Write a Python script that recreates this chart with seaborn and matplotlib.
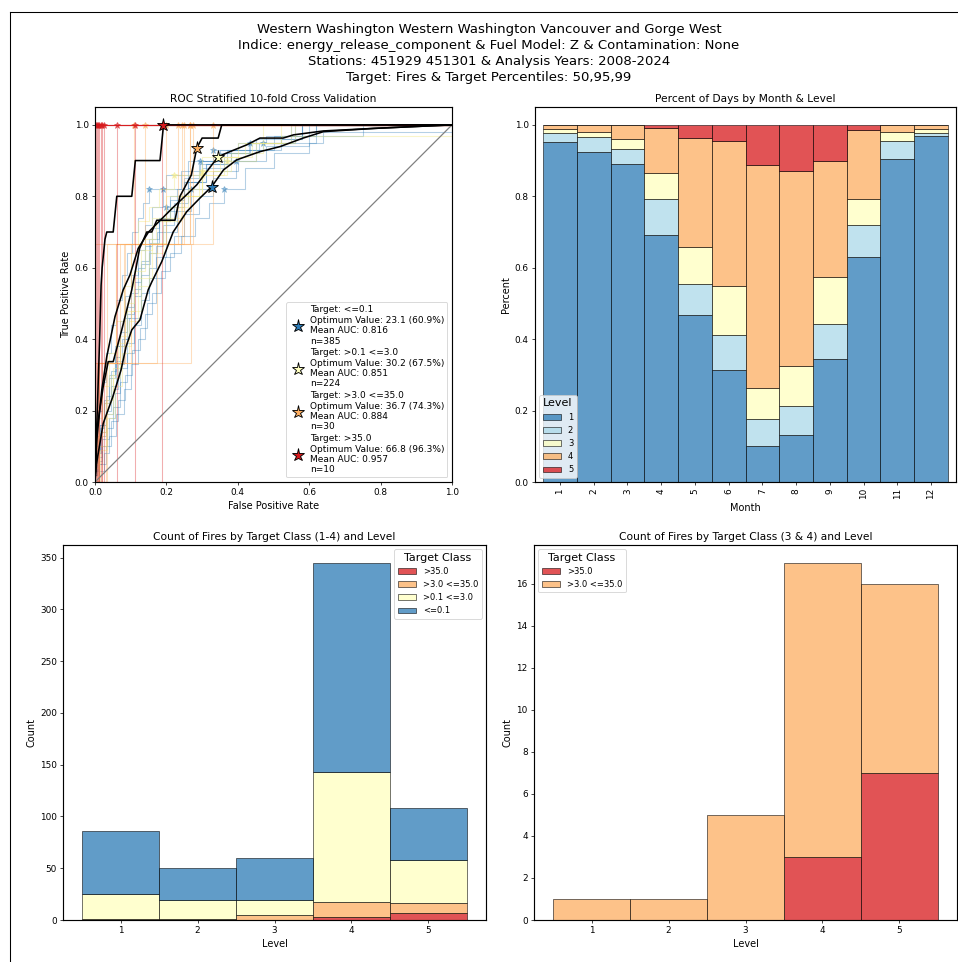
import matplotlib
matplotlib.use("Agg")
import matplotlib.pyplot as plt
from matplotlib.lines import Line2D
import pandas as pd
import seaborn as sns

# ---------------- data ----------------
months = list(range(1, 13))
levels = [1, 2, 3, 4, 5]

# share of days in each fire-danger level, per month
share_level1 = [0.953, 0.925, 0.891, 0.692, 0.468, 0.314, 0.101, 0.132, 0.345, 0.629, 0.905, 0.969]
share_level2 = [0.024, 0.040, 0.041, 0.100, 0.087, 0.098, 0.075, 0.082, 0.098, 0.091, 0.050, 0.008]
share_level3 = [0.011, 0.016, 0.028, 0.074, 0.104, 0.138, 0.088, 0.111, 0.130, 0.072, 0.026, 0.011]
share_level4 = [0.012, 0.019, 0.040, 0.125, 0.304, 0.406, 0.624, 0.547, 0.327, 0.194, 0.019, 0.012]
share_level5 = [0.000, 0.000, 0.000, 0.009, 0.037, 0.044, 0.112, 0.128, 0.100, 0.014, 0.000, 0.000]

target_classes = ["<=0.1", ">0.1 <=3.0", ">3.0 <=35.0", ">35.0"]
# fire counts per level (1..5) for each target class
count_le_0_1 = [61, 31, 41, 202, 50]
count_0_1_to_3 = [24, 18, 14, 126, 42]
count_3_to_35 = [1, 1, 5, 14, 9]
count_gt_35 = [0, 0, 0, 3, 7]

optimum_value = [23.1, 30.2, 36.7, 66.8]
optimum_pct = [60.9, 67.5, 74.3, 96.3]
mean_auc = [0.816, 0.851, 0.884, 0.957]
optimum_fpr = [0.327, 0.345, 0.285, 0.19]
optimum_tpr = [0.827, 0.911, 0.935, 1.0]

# mean ROC curves
mean_fpr_le_0_1 = [0, 0.004, 0.023, 0.05, 0.073, 0.087, 0.103, 0.126, 0.149, 0.159, 0.187, 0.219,
                   0.257, 0.294, 0.327, 0.36, 0.397, 0.462, 0.518, 0.583, 0.64, 0.78, 1.0]
mean_tpr_le_0_1 = [0, 0.05, 0.164, 0.239, 0.314, 0.379, 0.426, 0.454, 0.538, 0.56, 0.617, 0.70,
                   0.757, 0.795, 0.827, 0.874, 0.902, 0.925, 0.939, 0.963, 0.981, 0.99, 1.0]
mean_fpr_0_1_to_3 = [0, 0.005, 0.019, 0.033, 0.056, 0.079, 0.098, 0.121, 0.15, 0.19, 0.22, 0.252,
                     0.285, 0.313, 0.345, 0.378, 0.425, 0.462, 0.527, 0.556, 0.64, 0.78, 1.0]
mean_tpr_0_1_to_3 = [0, 0.12, 0.258, 0.351, 0.463, 0.538, 0.58, 0.654, 0.70, 0.74, 0.77, 0.80,
                     0.832, 0.869, 0.911, 0.925, 0.944, 0.963, 0.963, 0.972, 0.983, 0.99, 1.0]
mean_fpr_3_to_35 = [0, 0.005, 0.023, 0.037, 0.051, 0.075, 0.103, 0.115, 0.125, 0.145, 0.159, 0.173,
                    0.224, 0.238, 0.27, 0.285, 0.30, 0.345, 0.355, 1.0]
mean_tpr_3_to_35 = [0, 0.146, 0.267, 0.337, 0.337, 0.426, 0.538, 0.60, 0.654, 0.70, 0.70, 0.733,
                    0.733, 0.80, 0.86, 0.935, 0.963, 0.963, 1.0, 1.0]
mean_fpr_gt_35 = [0, 0.003, 0.008, 0.013, 0.017, 0.02, 0.028, 0.033, 0.051, 0.061, 0.103, 0.113,
                  0.182, 0.192, 1.0]
mean_tpr_gt_35 = [0, 0.1, 0.25, 0.4, 0.55, 0.6, 0.68, 0.7, 0.7, 0.8, 0.8, 0.9, 0.9, 1.0, 1.0]

# per-fold ROC curves (step curves), <=0.1
folds_le_0_1 = [
    ([0, 0.005, 0.015, 0.025, 0.04, 0.055, 0.07, 0.085, 0.10, 0.12, 0.14, 0.16, 0.19, 0.24, 0.30, 0.38, 0.50, 0.62, 1.0],
     [0.03, 0.08, 0.15, 0.23, 0.30, 0.38, 0.45, 0.52, 0.58, 0.65, 0.72, 0.77, 0.82, 0.87, 0.90, 0.93, 0.95, 1.0, 1.0]),
    ([0, 0.01, 0.02, 0.035, 0.05, 0.07, 0.09, 0.11, 0.13, 0.15, 0.17, 0.20, 0.23, 0.27, 0.33, 0.40, 0.48, 0.60, 0.75, 1.0],
     [0.0, 0.05, 0.10, 0.15, 0.21, 0.28, 0.36, 0.44, 0.51, 0.57, 0.63, 0.70, 0.76, 0.82, 0.87, 0.90, 0.94, 0.97, 1.0, 1.0]),
    ([0, 0.004, 0.01, 0.02, 0.03, 0.045, 0.06, 0.075, 0.09, 0.105, 0.12, 0.135, 0.15, 0.20, 0.26, 0.35, 0.45, 0.58, 1.0],
     [0.05, 0.13, 0.20, 0.28, 0.36, 0.44, 0.51, 0.58, 0.64, 0.70, 0.74, 0.78, 0.82, 0.86, 0.90, 0.93, 0.96, 1.0, 1.0]),
    ([0, 0.01, 0.025, 0.04, 0.06, 0.08, 0.10, 0.12, 0.14, 0.16, 0.185, 0.21, 0.24, 0.28, 0.32, 0.36, 0.42, 0.50, 0.60, 0.64, 1.0],
     [0.0, 0.03, 0.08, 0.13, 0.19, 0.26, 0.33, 0.40, 0.47, 0.53, 0.59, 0.64, 0.69, 0.74, 0.78, 0.82, 0.88, 0.92, 0.95, 0.98, 1.0]),
    ([0, 0.005, 0.015, 0.03, 0.045, 0.06, 0.08, 0.10, 0.12, 0.14, 0.16, 0.18, 0.20, 0.25, 0.31, 0.38, 0.46, 0.55, 1.0],
     [0.02, 0.09, 0.16, 0.24, 0.31, 0.38, 0.46, 0.53, 0.60, 0.66, 0.71, 0.74, 0.77, 0.84, 0.89, 0.92, 0.95, 1.0, 1.0]),
    ([0, 0.008, 0.02, 0.03, 0.05, 0.065, 0.08, 0.095, 0.11, 0.13, 0.15, 0.175, 0.20, 0.23, 0.26, 0.294, 0.35, 0.43, 0.52, 0.62, 1.0],
     [0.03, 0.07, 0.13, 0.19, 0.26, 0.33, 0.40, 0.46, 0.52, 0.58, 0.64, 0.70, 0.76, 0.82, 0.86, 0.90, 0.92, 0.95, 0.97, 1.0, 1.0]),
    ([0, 0.012, 0.03, 0.045, 0.065, 0.085, 0.105, 0.125, 0.145, 0.17, 0.195, 0.22, 0.25, 0.29, 0.33, 0.395, 0.45, 0.52, 0.58, 1.0],
     [0.0, 0.05, 0.10, 0.17, 0.23, 0.30, 0.37, 0.43, 0.50, 0.57, 0.63, 0.69, 0.75, 0.80, 0.85, 0.90, 0.93, 0.96, 1.0, 1.0]),
    ([0, 0.006, 0.018, 0.03, 0.045, 0.06, 0.075, 0.09, 0.11, 0.13, 0.155, 0.18, 0.21, 0.25, 0.30, 0.36, 0.434, 0.50, 0.60, 1.0],
     [0.02, 0.08, 0.14, 0.20, 0.27, 0.34, 0.40, 0.47, 0.54, 0.61, 0.67, 0.73, 0.79, 0.84, 0.88, 0.92, 0.95, 0.97, 1.0, 1.0]),
    ([0, 0.01, 0.02, 0.04, 0.055, 0.07, 0.09, 0.11, 0.13, 0.15, 0.17, 0.19, 0.22, 0.26, 0.31, 0.37, 0.47, 0.56, 1.0],
     [0.0, 0.06, 0.12, 0.18, 0.25, 0.32, 0.39, 0.46, 0.53, 0.60, 0.66, 0.72, 0.78, 0.84, 0.89, 0.93, 0.95, 1.0, 1.0]),
    ([0, 0.004, 0.012, 0.025, 0.04, 0.055, 0.07, 0.09, 0.11, 0.13, 0.15, 0.18, 0.21, 0.25, 0.29, 0.33, 0.40, 0.48, 0.58, 1.0],
     [0.04, 0.10, 0.16, 0.22, 0.29, 0.35, 0.42, 0.49, 0.56, 0.62, 0.68, 0.74, 0.80, 0.85, 0.89, 0.93, 0.95, 0.97, 1.0, 1.0]),
]
fold_opt_fpr_le_0_1 = [0.19, 0.27, 0.15, 0.36, 0.20, 0.294, 0.395, 0.434, 0.47, 0.33]
fold_opt_tpr_le_0_1 = [0.82, 0.82, 0.82, 0.82, 0.77, 0.90, 0.90, 0.95, 0.95, 0.93]

# per-fold ROC curves, >0.1 <=3.0
folds_0_1_to_3 = [
    ([0, 0.01, 0.03, 0.05, 0.07, 0.09, 0.11, 0.14, 0.17, 0.21, 0.26, 0.30, 0.36, 0.44, 0.52, 1.0],
     [0.05, 0.14, 0.23, 0.32, 0.41, 0.50, 0.59, 0.68, 0.73, 0.77, 0.82, 0.86, 0.91, 0.95, 1.0, 1.0]),
    ([0, 0.005, 0.02, 0.04, 0.06, 0.08, 0.10, 0.12, 0.15, 0.18, 0.22, 0.30, 0.40, 0.52, 1.0],
     [0.09, 0.18, 0.27, 0.36, 0.45, 0.55, 0.64, 0.73, 0.77, 0.82, 0.86, 0.91, 0.95, 0.97, 1.0]),
    ([0, 0.015, 0.035, 0.055, 0.075, 0.095, 0.12, 0.15, 0.19, 0.24, 0.29, 0.35, 0.42, 0.55, 1.0],
     [0.0, 0.09, 0.18, 0.27, 0.36, 0.45, 0.55, 0.64, 0.73, 0.80, 0.87, 0.91, 0.95, 1.0, 1.0]),
    ([0, 0.008, 0.025, 0.045, 0.065, 0.085, 0.11, 0.13, 0.16, 0.20, 0.30, 0.38, 0.47, 1.0],
     [0.04, 0.13, 0.22, 0.30, 0.39, 0.48, 0.57, 0.65, 0.74, 0.80, 0.87, 0.92, 1.0, 1.0]),
    ([0, 0.012, 0.03, 0.05, 0.07, 0.10, 0.13, 0.16, 0.20, 0.25, 0.30, 0.37, 0.45, 0.56, 1.0],
     [0.0, 0.10, 0.19, 0.29, 0.38, 0.48, 0.57, 0.67, 0.74, 0.80, 0.86, 0.90, 0.95, 1.0, 1.0]),
]
fold_opt_fpr_0_1_to_3 = [0.30, 0.22, 0.35, 0.30, 0.37]
fold_opt_tpr_0_1_to_3 = [0.86, 0.86, 0.91, 0.87, 0.90]

# >3.0 <=35.0 folds: false positive rate at which each of the 3 fires is reached
fold_fpr_3_to_35 = [
    [0.0, 0.0, 0.266], [0.0, 0.035, 0.245], [0.005, 0.06, 0.14], [0.01, 0.07, 0.20],
    [0.02, 0.27, 0.33], [0.03, 0.08, 0.275], [0.0, 0.084, 0.11], [0.035, 0.10, 0.25],
    [0.012, 0.06, 0.233], [0.008, 0.175, 0.265],
]
fold_tpr_3_to_35 = [0.0, 0.333, 0.667, 1.0, 1.0]

# >35.0 folds: false positive rate at which the single fire is reached
fold_fpr_gt_35 = [0.002, 0.005, 0.008, 0.012, 0.016, 0.020, 0.024, 0.061, 0.112, 0.187]

# ---------------- style ----------------
level_colors = ["#2c7bb6", "#abd9e9", "#ffffbf", "#fdae61", "#d7191c"]
class_colors = dict(zip(target_classes, ["#2c7bb6", "#ffffbf", "#fdae61", "#d7191c"]))

plt.rcParams.update({
    "font.family": ["DejaVu Sans"],
    "axes.linewidth": 1.3,
    "xtick.labelsize": 10,
    "ytick.labelsize": 10,
    "axes.labelsize": 11,
    "axes.titlesize": 12,
})

DPI = 63.9
W, H = 958, 962
fig = plt.figure(figsize=(W / DPI, H / DPI), dpi=DPI)


def px_axes(x0, y0, x1, y1):
    return fig.add_axes([x0 / W, 1 - y1 / H, (x1 - x0) / W, (y1 - y0) / H])


ax_roc = px_axes(95, 107, 452, 482)
ax_pct = px_axes(535, 107, 956, 482)
ax_all = px_axes(63, 545, 486, 920)
ax_hi = px_axes(534, 545, 957, 920)

# ---------------- ROC panel ----------------
fold_lw = 1.2
for fx, fy in folds_le_0_1:
    ax_roc.plot(fx, fy, drawstyle="steps-post", color=class_colors["<=0.1"], alpha=0.35, lw=fold_lw)
ax_roc.plot(fold_opt_fpr_le_0_1, fold_opt_tpr_le_0_1, ls="none", marker="*", ms=7,
            color=class_colors["<=0.1"], alpha=0.45)
for fx, fy in folds_0_1_to_3:
    ax_roc.plot(fx, fy, drawstyle="steps-post", color="#f3eb8a", alpha=0.45, lw=fold_lw)
ax_roc.plot(fold_opt_fpr_0_1_to_3, fold_opt_tpr_0_1_to_3, ls="none", marker="*", ms=7,
            color="#f3eb8a", alpha=0.6)
for crossings in fold_fpr_3_to_35:
    ax_roc.plot([0] + crossings + [1.0], fold_tpr_3_to_35, drawstyle="steps-post",
                color=class_colors[">3.0 <=35.0"], alpha=0.4, lw=fold_lw)
    ax_roc.plot(crossings[-1], 1.0, ls="none", marker="*", ms=7,
                color=class_colors[">3.0 <=35.0"], alpha=0.6)
for f in fold_fpr_gt_35:
    ax_roc.plot([0, f, 1.0], [0, 1.0, 1.0], drawstyle="steps-post",
                color=class_colors[">35.0"], alpha=0.35, lw=fold_lw)
    ax_roc.plot(f, 1.0, ls="none", marker="*", ms=7, color=class_colors[">35.0"], alpha=0.6)

mean_curves = [
    (mean_fpr_le_0_1, mean_tpr_le_0_1),
    (mean_fpr_0_1_to_3, mean_tpr_0_1_to_3),
    (mean_fpr_3_to_35, mean_tpr_3_to_35),
    (mean_fpr_gt_35, mean_tpr_gt_35),
]
for mx, my in mean_curves:
    ax_roc.plot(mx, my, color="black", lw=1.8, zorder=4)

ax_roc.plot([0, 1], [0, 1], color="gray", lw=1.4, zorder=3)

class_counts = [count_le_0_1, count_0_1_to_3, count_3_to_35, count_gt_35]
handles, labels = [], []
for i, cls in enumerate(target_classes):
    ax_roc.plot(optimum_fpr[i], optimum_tpr[i], ls="none", marker="*", ms=15,
                mfc=class_colors[cls], mec="black", mew=1.0, zorder=6)
    handles.append(Line2D([], [], ls="none", marker="*", ms=15, mfc=class_colors[cls],
                          mec="black", mew=1.0))
    labels.append(f"Target: {cls}\nOptimum Value: {optimum_value[i]} ({optimum_pct[i]}%)\n"
                  f"Mean AUC: {mean_auc[i]:.3f}\nn={sum(class_counts[i])}")
ax_roc.legend(handles, labels, loc="lower right", fontsize=10.2, handletextpad=0.3,
              labelspacing=0.3, borderpad=0.35)
ax_roc.set_xlim(0, 1)
ax_roc.set_ylim(0, 1.05)
ax_roc.set_xticks([0, 0.2, 0.4, 0.6, 0.8, 1.0])
ax_roc.set_yticks([0, 0.2, 0.4, 0.6, 0.8, 1.0])
ax_roc.set_xlabel("False Positive Rate")
ax_roc.set_ylabel("True Positive Rate")
ax_roc.set_title("ROC Stratified 10-fold Cross Validation")

# ---------------- percent of days by month ----------------
shares = [share_level1, share_level2, share_level3, share_level4, share_level5]
df_days = pd.DataFrame(
    [(m, lvl, shares[j][i]) for j, lvl in enumerate(levels) for i, m in enumerate(months)],
    columns=["Month", "Level", "Share"],
)
sns.histplot(data=df_days, x="Month", hue="Level", weights="Share", discrete=True,
             multiple="fill", hue_order=levels[::-1], linewidth=0.6,
             palette=dict(zip(levels, level_colors)), ax=ax_pct)
leg = ax_pct.get_legend()
h = leg.legend_handles
t = [tx.get_text() for tx in leg.get_texts()]
ax_pct.legend(h[::-1], t[::-1], title="Level", loc="lower left", fontsize=9.5,
              title_fontsize=12.5, handlelength=2.2)
ax_pct.set_xlim(0.26, 12.74)
ax_pct.set_ylim(0, 1.05)
ax_pct.set_xticks(months)
ax_pct.set_xticklabels([str(m) for m in months], rotation=90)
ax_pct.set_yticks([0, 0.2, 0.4, 0.6, 0.8, 1.0])
ax_pct.set_xlabel("Month")
ax_pct.set_ylabel("Percent")
ax_pct.set_title("Percent of Days by Month & Level")

# ---------------- fire counts by level ----------------
df_fires = pd.DataFrame(
    [(lvl, cls, class_counts[j][i]) for j, cls in enumerate(target_classes)
     for i, lvl in enumerate(levels)],
    columns=["Level", "Target Class", "Count"],
)


def count_panel(ax, classes, title, loc):
    sub = df_fires[df_fires["Target Class"].isin(classes)]
    sns.histplot(data=sub, x="Level", hue="Target Class", weights="Count", discrete=True,
                 multiple="stack", hue_order=classes, linewidth=0.6,
                 palette={c: class_colors[c] for c in classes}, ax=ax)
    lg = ax.get_legend()
    hh = lg.legend_handles
    tt = [tx.get_text() for tx in lg.get_texts()]
    ax.legend(hh[::-1], tt[::-1], title="Target Class", loc=loc, fontsize=9.5,
              title_fontsize=12.5, handlelength=2.2)
    ax.set_xticks(levels)
    ax.set_xlabel("Level")
    ax.set_ylabel("Count")
    ax.set_title(title)


count_panel(ax_all, target_classes, "Count of Fires by Target Class (1-4) and Level", "upper right")
count_panel(ax_hi, target_classes[2:], "Count of Fires by Target Class (3 & 4) and Level", "upper left")
ax_all.set_yticks(range(0, 351, 50))
ax_hi.set_yticks(range(0, 17, 2))

# ---------------- figure title and frame ----------------
fig.text(489 / W, 1 - 23 / H,
         "Western Washington Western Washington Vancouver and Gorge West\n"
         "Indice: energy_release_component & Fuel Model: Z & Contamination: None\n"
         "Stations: 451929 451301 & Analysis Years: 2008-2024\n"
         "Target: Fires & Target Percentiles: 50,95,99",
         ha="center", va="top", fontsize=15, linespacing=1.31)
fig.add_artist(Line2D([10 / W, 10 / W], [0, 1 - 12 / H], transform=fig.transFigure,
                      color="black", lw=1.2))
fig.add_artist(Line2D([10 / W, 1], [1 - 12 / H, 1 - 12 / H], transform=fig.transFigure,
                      color="black", lw=1.2))

fig.savefig("out.png", dpi=DPI)
